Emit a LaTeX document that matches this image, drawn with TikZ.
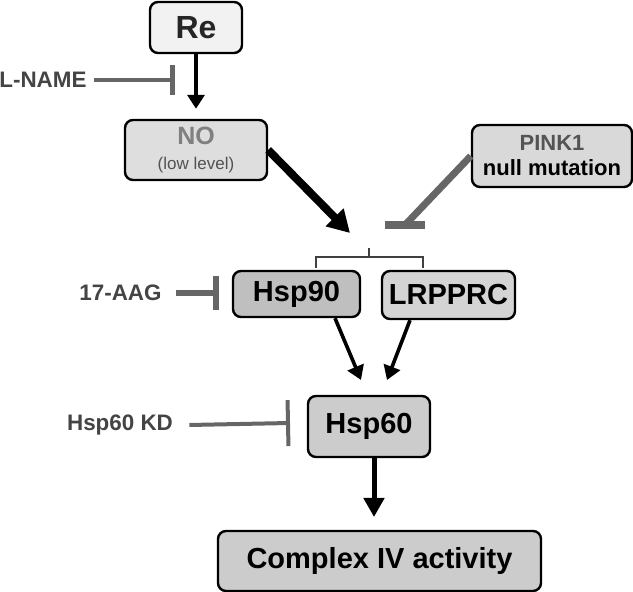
\documentclass[tikz,border=0pt]{standalone}
\usepackage{fontspec}
\setmainfont{Liberation Sans}
\usetikzlibrary{arrows.meta}
\definecolor{grisinh}{HTML}{666666}
\definecolor{grislab}{HTML}{444444}

\begin{document}
\begin{tikzpicture}[x=0.5pt,y=-0.5pt,
    boite/.style={draw=black, line width=1.2pt, rounded corners=4pt, inner sep=0pt, align=center,
        font=\bfseries\fontsize{14.5}{16}\selectfont},
    lab/.style={text=grislab, inner sep=0pt, font=\bfseries\fontsize{11.2}{13}\selectfont},
    act/.style={line width=2pt, -{Triangle[length=7pt,width=8.5pt]}},
    inh/.style={draw=grisinh, line width=2.4pt, -{Bar[width=15pt]}}]
    \useasboundingbox (0,0) rectangle (633,592);
    % Re
    \node[boite, fill=black!5, minimum width=46pt, minimum height=25.5pt, text=black!85,
        font=\bfseries\fontsize{16}{18}\selectfont] (re) at (196,27.5) {Re};
    % NO (low level)
    \node[boite, fill=black!13, minimum width=71pt, minimum height=30pt] (no) at (196,150)
        {\textcolor{black!50}{\fontsize{12.5}{13}\selectfont NO}\\[-3.5pt]
         \textcolor{black!68}{\mdseries\fontsize{8.5}{10}\selectfont (low level)}};
    % PINK1
    \node[boite, fill=black!15, minimum width=80pt, minimum height=31pt, font=\bfseries\fontsize{11}{12.5}\selectfont]
        (pink) at (552,156) {\textcolor{black!67}{PINK1}\\null mutation};
    % Hsp90 et LRPPRC
    \node[boite, fill=black!25, minimum width=63.5pt, minimum height=23pt] (hsp90) at (296.5,294) {Hsp90};
    \node[boite, fill=black!17, minimum width=66.5pt, minimum height=24pt] (lrpprc) at (448.5,295) {LRPPRC};
    % Hsp60
    \node[boite, fill=black!20, minimum width=61pt, minimum height=30.5pt] (hsp60) at (369,426.5) {Hsp60};
    % Complex IV
    \node[boite, fill=black!20, minimum width=161.5pt, minimum height=30pt] (cox) at (379.5,561) {Complex IV activity};
    % inhibiteurs
    \node[lab, anchor=west] (lname) at (-1,80) {L-NAME};
    \node[lab] (aag) at (120.5,293) {17-AAG};
    \node[lab] (kd) at (120,425) {Hsp60 KD};
    \coordinate (lbar) at (175,80);
    \coordinate (aagbar) at (219,293);
    \coordinate (kdbar) at (290,423);
    \coordinate (pinkbar) at (405,225);
    \coordinate (noend) at (350,233);
    \coordinate (tipa) at (361,380);
    \coordinate (tipb) at (387,380);
    \coordinate (tipc) at (374,517);
    % fleches
    \draw[act] (re) -- ([yshift=5pt]no.north);
    \draw[act, line width=4pt, -{Triangle[length=11pt,width=12pt]}] (no.east) -- (noend);
    \draw[act, line width=1.8pt] ([xshift=19.25pt]hsp90.south) -- (tipa);
    \draw[act, line width=1.8pt] ([xshift=-19.25pt]lrpprc.south) -- (tipb);
    \draw[act, line width=2.5pt, -{Triangle[length=9.5pt,width=10pt]}] (hsp60.south -| tipc) -- (tipc);
    \draw[inh] ([xshift=3.5pt]lname.east) -- (lbar);
    \draw[inh, line width=3pt, -{Bar[width=17pt]}] ([xshift=7pt]aag.east) -- (aagbar);
    \draw[inh, line width=2pt, -{Bar[width=23pt]}] ([xshift=8pt]kd.east) -- (kdbar);
    \draw[grisinh, line width=3.5pt] (pink.west) -- (pinkbar);
    \draw[grisinh, line width=4pt] ([xshift=-10pt]pinkbar) -- ([xshift=10pt]pinkbar);
    % accolade
    \draw[black!75, line width=0.7pt] (316,268) -- (316,257) -- (423,257) -- (423,268)
        (369,257) -- (369,248);
\end{tikzpicture}
\end{document}
